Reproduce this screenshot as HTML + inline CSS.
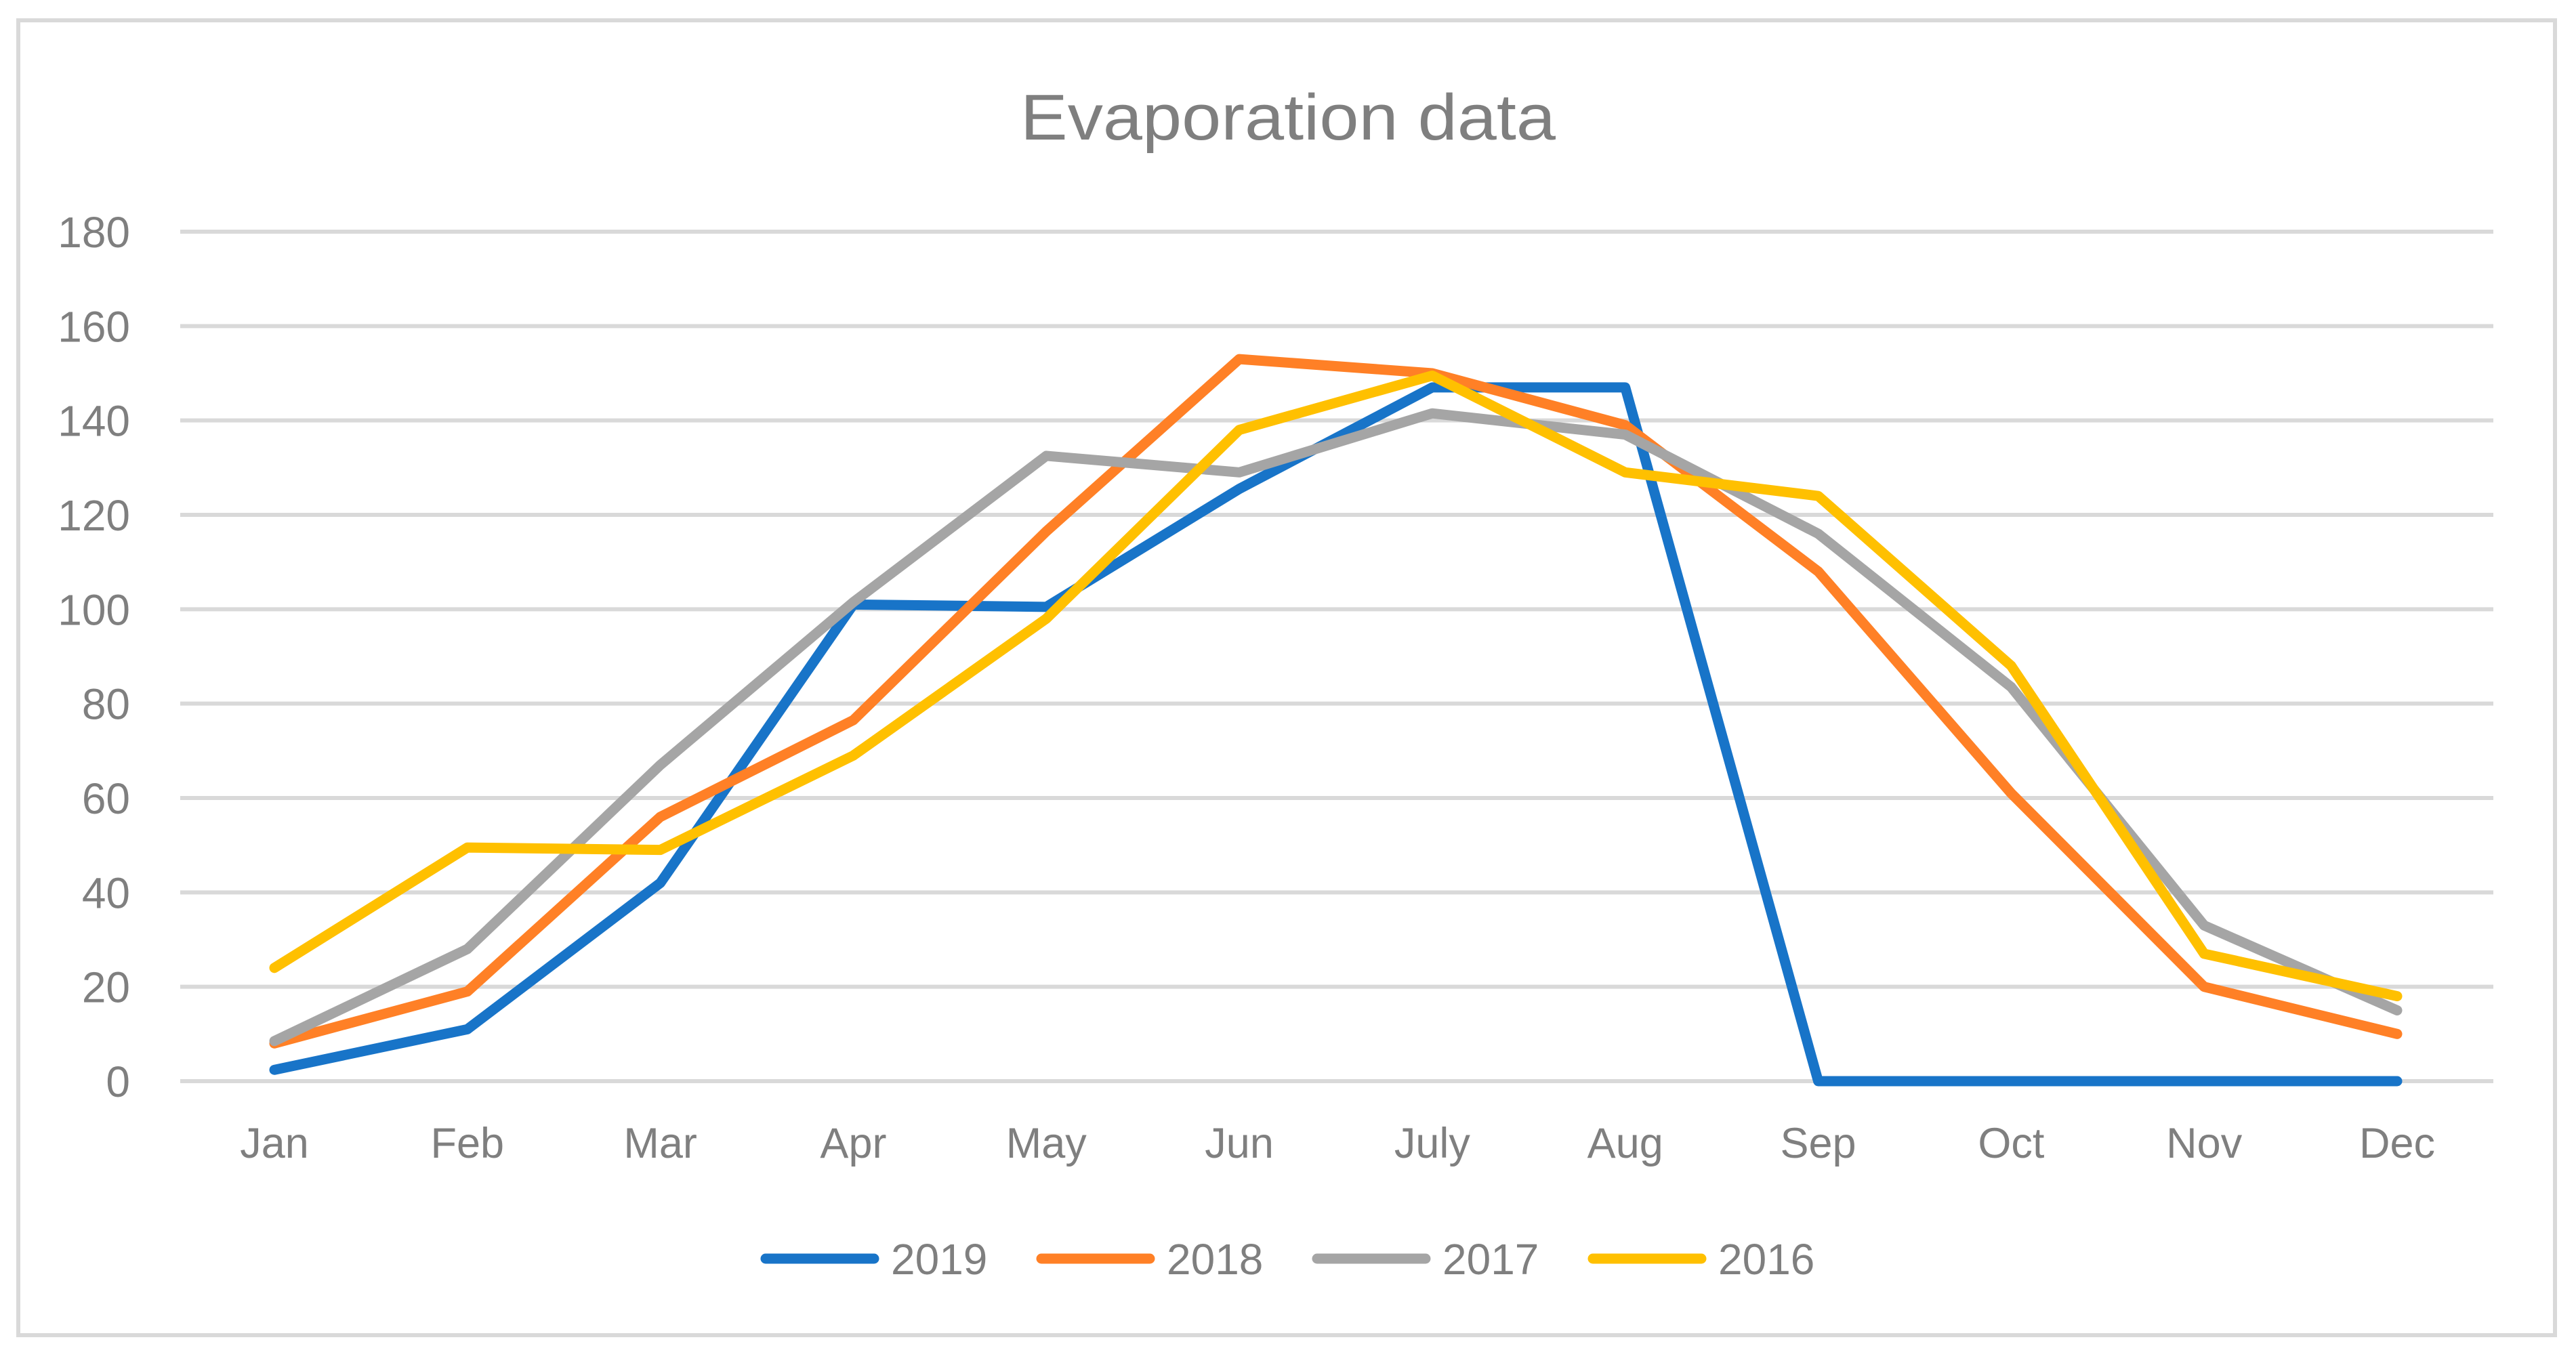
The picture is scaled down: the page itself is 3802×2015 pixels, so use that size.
<!DOCTYPE html>
<html><head><meta charset="utf-8"><style>
html,body{margin:0;padding:0;background:#fff;}
svg{display:block;}
text{font-family:"Liberation Sans",sans-serif;fill:#7f7f7f;}
</style></head><body>
<svg id="chart" width="3802" height="2015" viewBox="0 0 3802 2015" xmlns="http://www.w3.org/2000/svg">
<rect x="27" y="30" width="3744" height="1941" fill="#fff" stroke="#d9d9d9" stroke-width="6"/>
<text x="1901" y="206" font-size="96" text-anchor="middle" textLength="790" lengthAdjust="spacingAndGlyphs">Evaporation data</text>
<g id="grid"></g><g id="yt"></g><g id="xt"></g><g id="lines"></g><g id="legend"></g>
</svg>
<script>
const categories=["Jan","Feb","Mar","Apr","May","Jun","July","Aug","Sep","Oct","Nov","Dec"];
const yTicks=[0,20,40,60,80,100,120,140,160,180];
const s2019=[2.4,11,42,101,100.5,125.5,147,147,0,0,0,0];
const s2018=[8,19,56,76.5,116.5,153,150,139,108,61,20,10];
const s2017=[8.5,28,67,101.5,132.5,129,141.5,137,116,83.5,33,15];
const s2016=[24,49.5,49,69,98,138,149.5,129,124,88,27,18];
const seriesNames=["2019","2018","2017","2016"];
const seriesData=[s2019,s2018,s2017,s2016];
const colors=["#1874c8","#ff8026","#a5a5a5","#ffc000"];
const NS="http://www.w3.org/2000/svg";
const y0=1596,y180=342,xL=266,xR=3680;
const xS=i=>405+i*(3538-405)/11;
const yS=v=>y0-(v/180)*(y0-y180);
function mk(t,a,p){const e=document.createElementNS(NS,t);for(const k in a)e.setAttribute(k,a[k]);p.appendChild(e);return e;}
const grid=document.getElementById('grid'),yt=document.getElementById('yt'),xt=document.getElementById('xt');
yTicks.forEach(v=>{
 const l=mk('line',{x1:xL,x2:xR,y1:yS(v),y2:yS(v),stroke:'#d9d9d9','stroke-width':6},grid);
 
 
 const t=mk('text',{x:192,y:yS(v)+23,'font-size':64,'text-anchor':'end'},yt);
 t.textContent=v;
 
 
});
categories.forEach((c,i)=>{
 const t=mk('text',{x:xS(i),y:1709,'font-size':63,'text-anchor':'middle'},xt);
 t.textContent=c;
 
 
});
const lines=document.getElementById('lines'),leg=document.getElementById('legend');
seriesData.forEach((d,k)=>{
 const p=mk('polyline',{points:d.map((v,i)=>xS(i)+','+yS(v)).join(' '),fill:'none',stroke:colors[k],'stroke-width':15,'stroke-linejoin':'round','stroke-linecap':'round'},lines);
 
 
 const lx=1130+k*407;
 const g=mk('g',{},leg);
 
 
 mk('line',{x1:lx,x2:lx+160,y1:1858,y2:1858,stroke:colors[k],'stroke-width':15,'stroke-linecap':'round'},g);
 const t=mk('text',{x:lx+185,y:1881,'font-size':64},g);
 t.textContent=seriesNames[k];
});
</script>
</body></html>
